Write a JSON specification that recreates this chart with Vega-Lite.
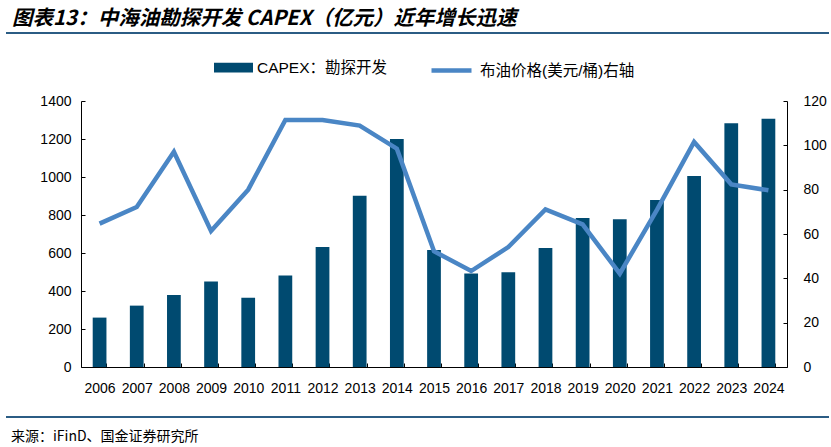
{
  "$schema": "https://vega.github.io/schema/vega-lite/v6.json",
  "description": "中海油勘探开发 CAPEX 与布油价格",
  "padding": {"left": 5, "top": 8, "right": 0, "bottom": 0},
  "spacing": 14,
  "title": {
    "text": "图表13：中海油勘探开发 CAPEX（亿元）近年增长迅速",
    "anchor": "start",
    "frame": "bounds",
    "dx": 7,
    "offset": -12,
    "font": "Noto Sans CJK SC",
    "fontSize": 20.5,
    "fontWeight": "bold",
    "fontStyle": "italic",
    "color": "#000000"
  },
  "config": {
    "view": {"stroke": null},
    "font": "Liberation Sans, Noto Sans CJK SC",
    "axis": {
      "grid": false,
      "domainColor": "#000000",
      "tickColor": "#000000",
      "labelColor": "#000000",
      "labelFont": "Liberation Sans",
      "labelFontSize": 14,
      "title": null
    }
  },
  "vconcat": [
    {
      "width": 823,
      "height": 1,
      "data": {"values": []},
      "mark": "rect"
    },
    {
      "width": 823,
      "height": 2,
      "data": {"values": [{"from": 0, "to": 1, "low": 0, "high": 1}]},
      "mark": {"type": "rect", "color": "#2B5C84"},
      "encoding": {
        "x": {"field": "from", "type": "quantitative", "scale": {"domain": [0, 1]}, "axis": null},
        "x2": {"field": "to"},
        "y": {"field": "low", "type": "quantitative", "scale": {"domain": [0, 1]}, "axis": null},
        "y2": {"field": "high"}
      }
    },
    {
      "spacing": 0,
      "bounds": "flush",
      "hconcat": [
        {
          "width": 75,
          "height": 266,
          "data": {"values": []},
          "mark": "rect"
        },
        {
          "width": 706,
          "height": 266,
          "data": {
            "values": [
              {"year": "2006", "capex": 260, "brent": 64.7},
              {"year": "2007", "capex": 323, "brent": 72.2},
              {"year": "2008", "capex": 379, "brent": 97.1},
              {"year": "2009", "capex": 450, "brent": 61.4},
              {"year": "2010", "capex": 364, "brent": 80.0},
              {"year": "2011", "capex": 481, "brent": 111.4},
              {"year": "2012", "capex": 632, "brent": 111.4},
              {"year": "2013", "capex": 901, "brent": 108.9},
              {"year": "2014", "capex": 1200, "brent": 98.5},
              {"year": "2015", "capex": 616, "brent": 52.2},
              {"year": "2016", "capex": 492, "brent": 43.3},
              {"year": "2017", "capex": 499, "brent": 54.1},
              {"year": "2018", "capex": 626, "brent": 71.1},
              {"year": "2019", "capex": 784, "brent": 64.3},
              {"year": "2020", "capex": 777, "brent": 42.1},
              {"year": "2021", "capex": 879, "brent": 70.9},
              {"year": "2022", "capex": 1005, "brent": 101.5},
              {"year": "2023", "capex": 1283, "brent": 82.4},
              {"year": "2024", "capex": 1306, "brent": 79.7}
            ]
          },
          "encoding": {
            "x": {
              "field": "year",
              "type": "ordinal",
              "scale": {"paddingInner": 0.63, "paddingOuter": 0.315},
              "axis": {
                "labelAngle": 0,
                "tickBand": "extent",
                "tickSize": -4,
                "labelPadding": 18,
                "labelFontSize": 14
              }
            }
          },
          "layer": [
            {
              "mark": {"type": "bar"},
              "encoding": {
                "y": {
                  "field": "capex",
                  "type": "quantitative",
                  "scale": {"domain": [0, 1400]},
                  "axis": {
                    "values": [0, 200, 400, 600, 800, 1000, 1200, 1400],
                    "format": "d",
                    "tickSize": -4,
                    "labelPadding": 14
                  }
                },
                "fill": {
                  "datum": "CAPEX：勘探开发",
                  "scale": {"range": ["#004A70"]},
                  "legend": {
                    "orient": "none",
                    "legendX": 133,
                    "legendY": -53,
                    "title": null,
                    "padding": 0,
                    "symbolType": "M-1,-0.25H1V0.25H-1Z",
                    "symbolSize": 1521,
                    "symbolStrokeWidth": 0,
                    "labelFont": "Liberation Sans, Noto Sans CJK SC",
                    "labelFontSize": 15.5,
                    "labelColor": "#000000",
                    "labelOffset": 4
                  }
                }
              }
            },
            {
              "mark": {"type": "line", "strokeWidth": 4.5},
              "encoding": {
                "y": {
                  "field": "brent",
                  "type": "quantitative",
                  "scale": {"domain": [0, 120]},
                  "axis": {
                    "orient": "right",
                    "values": [0, 20, 40, 60, 80, 100, 120],
                    "tickSize": -4,
                    "labelPadding": 20
                  }
                },
                "stroke": {
                  "datum": "布油价格(美元/桶)右轴",
                  "scale": {"range": ["#4A86C5"]},
                  "legend": {
                    "orient": "none",
                    "legendX": 348,
                    "legendY": -53,
                    "title": null,
                    "padding": 0,
                    "symbolType": "stroke",
                    "symbolSize": 1600,
                    "symbolStrokeWidth": 4.5,
                    "labelFont": "Liberation Sans, Noto Sans CJK SC",
                    "labelFontSize": 15.5,
                    "labelColor": "#000000",
                    "labelOffset": 6
                  }
                }
              }
            }
          ],
          "resolve": {"scale": {"y": "independent", "fill": "independent", "stroke": "independent"}}
        }
      ]
    },
    {
      "width": 823,
      "height": 8,
      "title": {
        "text": "来源：iFinD、国金证券研究所",
        "orient": "bottom",
        "anchor": "start",
        "dx": 6,
        "offset": 12,
        "font": "Noto Sans CJK SC",
        "fontSize": 14,
        "fontWeight": "normal",
        "color": "#000000"
      },
      "data": {"values": [{"from": 0, "to": 1, "level": 0}]},
      "mark": {"type": "rule", "color": "#2B5C84", "strokeWidth": 2, "clip": false},
      "encoding": {
        "x": {"field": "from", "type": "quantitative", "scale": {"domain": [0, 1]}, "axis": null},
        "x2": {"field": "to"},
        "y": {"field": "level", "type": "quantitative", "scale": {"domain": [0, 1]}, "axis": null}
      }
    }
  ]
}
